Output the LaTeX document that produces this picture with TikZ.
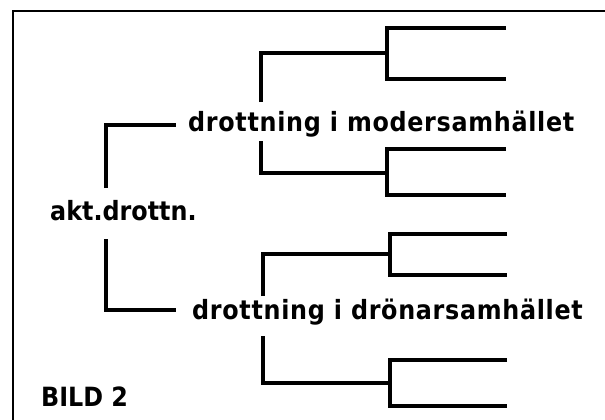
\documentclass[tikz,border=0pt]{standalone}
\usepackage{fontspec}
\newfontfamily\lblfont{DejaVu Sans Condensed}
\newfontfamily\widelblfont[LetterSpace=2.6]{DejaVu Sans Condensed}
\begin{document}
\begin{tikzpicture}[x=1pt,y=-1pt,
  lbl/.style={inner sep=0pt,anchor=base west,font=\lblfont\bfseries\fontsize{26.5}{30}\selectfont},
  widelbl/.style={lbl,font=\widelblfont\bfseries\fontsize{26.5}{30}\selectfont},
  branch/.style={line width=3.2pt,line join=miter},
  frame/.style={line width=2pt}]
\useasboundingbox (0,0) rectangle (605,420);
\clip (0,0) rectangle (605,420);
% open frame: top and left edges only
\draw[frame] (606,11) -- (13,11) -- (13,421);

% labels
\node[lbl] (root) at (50,220) {akt.drottn.};
\node[widelbl] (q1) at (188,131.5) {drottning i modersamhället};
\node[widelbl] (q2) at (192,319.5) {drottning i drönarsamhället};
\node[lbl] (bild) at (41,406.5) {BILD 2};

% junction points and open ends
\coordinate (rA) at (106,188);  \coordinate (rB) at (106,239);
\coordinate (q1in) at (176,125); \coordinate (q2in) at (176,310);
\coordinate (q1a) at (261,102); \coordinate (q1b) at (261,141);
\coordinate (q2a) at (263,296); \coordinate (q2b) at (263,336);
\coordinate (j1) at (387,53);  \coordinate (j2) at (387,173);
\coordinate (j3) at (390,254); \coordinate (j4) at (390,383);
\coordinate (e1) at (506,28);  \coordinate (e2) at (506,79);
\coordinate (e3) at (506,149); \coordinate (e4) at (506,195);
\coordinate (e5) at (507,234); \coordinate (e6) at (507,275);
\coordinate (e7) at (507,360); \coordinate (e8) at (507,406);

% first generation
\draw[branch] (rA) |- (q1in);
\draw[branch] (rB) |- (q2in);
% second generation
\draw[branch] (q1a) |- (j1);
\draw[branch] (q1b) |- (j2);
\draw[branch] (q2a) |- (j3);
\draw[branch] (q2b) |- (j4);
% third generation
\draw[branch] (e1) -| (j1) |- (e2);
\draw[branch] (e3) -| (j2) |- (e4);
\draw[branch] (e5) -| (j3) |- (e6);
\draw[branch] (e7) -| (j4) |- (e8);
\end{tikzpicture}
\end{document}
